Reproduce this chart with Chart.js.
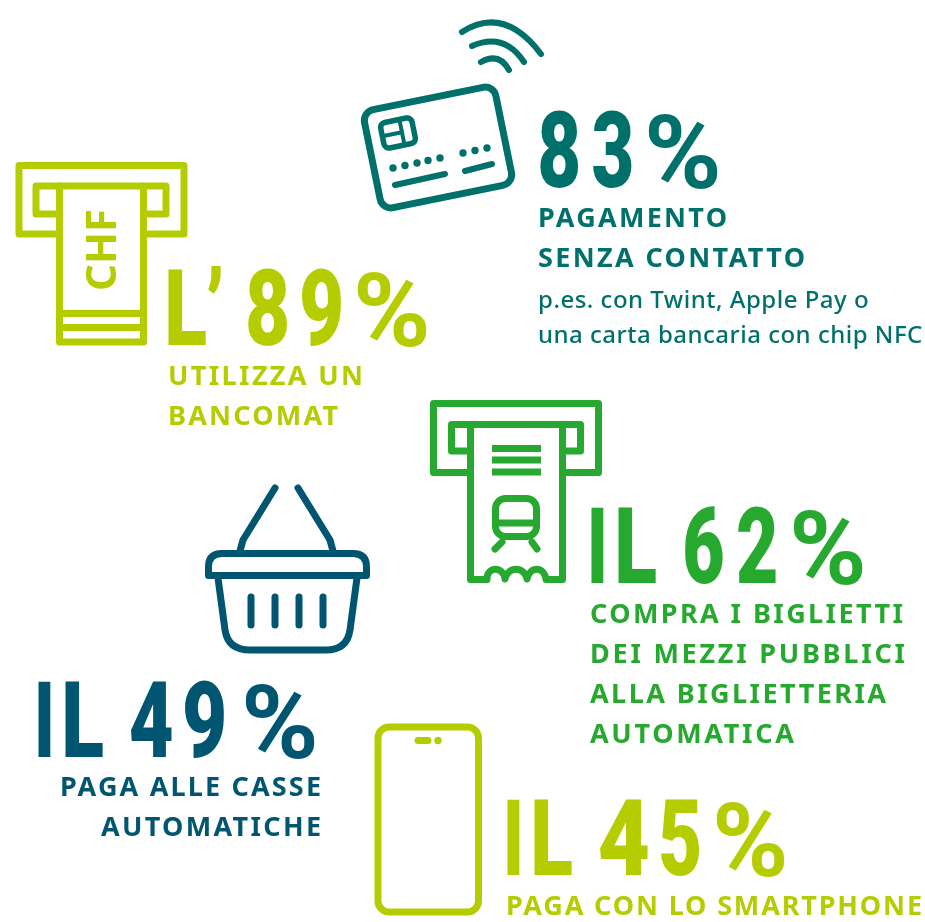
<!DOCTYPE html>
<html>
<head>
<meta charset="utf-8">
<script src="https://cdn.jsdelivr.net/npm/chart.js@4"></script>
<style>
  html, body { margin: 0; background: #fff; }
  canvas { display: block; }
</style>
</head>
<body>
<canvas id="chart" width="925" height="922"></canvas>
<script>
// values and copy
const categories = ['contactless', 'atm', 'tickets', 'selfCheckout', 'smartphone'];
const shares = [83, 89, 62, 49, 45];
const leads = ['', "L'", 'IL', 'IL', 'IL'];
const captions = [
  ['PAGAMENTO', 'SENZA CONTATTO'],
  ['UTILIZZA UN', 'BANCOMAT'],
  ['COMPRA I BIGLIETTI', 'DEI MEZZI PUBBLICI', 'ALLA BIGLIETTERIA', 'AUTOMATICA'],
  ['PAGA ALLE CASSE', 'AUTOMATICHE'],
  ['PAGA CON LO SMARTPHONE']
];
const notes = [['p.es. con Twint, Apple Pay o', 'una carta bancaria con chip NFC'], [], [], [], []];

const TEAL = '#00706a', LIME = '#b5cd00', GREEN = '#27a82f', BLUE = '#005670';
const BIG = '900 106px Roboto';
const PCT = 'bold 102px Roboto';
const CAPTION = 'bold 27px "Noto Sans"';
const NOTE = '500 24px "Noto Sans"';

// where each block sits on the page, capW = width of each caption line
const layout = [
  { color: TEAL, base: 187, lead: [], digits: [[540, 578], [593, 632]], pct: [648, 717], capX: 538, capY: 227, capW: [189, 267], right: false, icon: drawCard },
  { color: LIME, base: 345, lead: [[168, 206], [208, 221]], digits: [[248, 287], [302, 341]], pct: [357, 426], capX: 168, capY: 385, capW: [195, 170], right: false, icon: drawCash },
  { color: GREEN, base: 583, lead: [[591, 604], [618, 656]], digits: [[685, 723], [738, 776]], pct: [793, 862], capX: 590, capY: 623, capW: [313, 315, 296, 204], right: false, icon: drawTicket },
  { color: BLUE, base: 757, lead: [[38, 51], [65, 103]], digits: [[131, 172], [185, 224]], pct: [245, 314], capX: 321, capY: 796, capW: [261, 220], right: true, icon: drawBasket },
  { color: LIME, base: 875, lead: [[507, 520], [534, 572]], digits: [[600, 648], [661, 699]], pct: [716, 784], capX: 506, capY: 915, capW: [416], right: false, icon: drawPhone }
];

function line(ctx, pts) {
  ctx.beginPath();
  pts.forEach((p, i) => i ? ctx.lineTo(p[0], p[1]) : ctx.moveTo(p[0], p[1]));
  ctx.stroke();
}

function dot(ctx, x, y, r) {
  ctx.beginPath();
  ctx.arc(x, y, r, 0, Math.PI * 2);
  ctx.fill();
}

function drawCard(ctx) {
  ctx.lineWidth = 7;
  ctx.save();
  ctx.translate(438, 147.5);
  ctx.rotate(-11.5 * Math.PI / 180);
  ctx.beginPath();
  ctx.roundRect(-67, -50, 134, 100, 11);
  ctx.stroke();
  ctx.restore();

  // chip
  ctx.save();
  ctx.translate(398, 133);
  ctx.rotate(-11.5 * Math.PI / 180);
  ctx.lineWidth = 5.5;
  ctx.beginPath();
  ctx.roundRect(-16, -13, 32, 26, 5);
  ctx.stroke();
  ctx.lineWidth = 4;
  line(ctx, [[4, -13], [4, 13]]);
  line(ctx, [[-16, 0], [4, 0]]);
  ctx.restore();

  [[393, 168], [405, 165.5], [417, 163], [428, 160.5], [440, 158], [463, 153], [475, 150.5], [487, 148]]
    .forEach(p => dot(ctx, p[0], p[1], 3.7));
  ctx.lineWidth = 6;
  line(ctx, [[395, 185], [445, 174]]);
  line(ctx, [[465, 171], [492, 164]]);

  // contactless waves
  ctx.lineWidth = 6;
  [[462, 32, 504, 5, 541, 54], [472, 46, 504, 32, 524, 62], [481, 62, 499, 52, 509, 70]].forEach(a => {
    ctx.beginPath();
    ctx.moveTo(a[0], a[1]);
    ctx.quadraticCurveTo(a[2], a[3], a[4], a[5]);
    ctx.stroke();
  });
}

function drawSlot(ctx, x0, x1, y0, y1, sx0, sx1, sy0, sy1, nx0, nx1) {
  line(ctx, [[nx0, y1], [x0, y1], [x0, y0], [x1, y0], [x1, y1], [nx1, y1]]);
  line(ctx, [[nx0, sy1], [sx0, sy1], [sx0, sy0], [sx1, sy0], [sx1, sy1], [nx1, sy1]]);
}

function drawCash(ctx) {
  ctx.lineWidth = 7;
  drawSlot(ctx, 19, 184, 165.5, 234, 36, 166, 186, 214, 59.5, 143.5);
  line(ctx, [[59.5, 186], [59.5, 342], [143.5, 342], [143.5, 186]]);
  line(ctx, [[59.5, 313.5], [143.5, 313.5]]);
  line(ctx, [[59.5, 327.5], [143.5, 327.5]]);
  ctx.save();
  ctx.translate(101, 250);
  ctx.rotate(-Math.PI / 2);
  ctx.font = 'bold 42px "Noto Sans"';
  ctx.textAlign = 'center';
  ctx.textBaseline = 'alphabetic';
  ctx.fillText('CHF', 0, 15);
  ctx.restore();
}

function drawTicket(ctx) {
  ctx.lineWidth = 7;
  drawSlot(ctx, 433.5, 598.5, 403.5, 472.5, 451.5, 580.5, 424.5, 451, 470.5, 562.5);
  ctx.beginPath();
  ctx.moveTo(470.5, 424.5);
  ctx.lineTo(470.5, 579.5);
  ctx.lineTo(487, 579.5);
  ctx.bezierCurveTo(487, 566, 503, 566, 505, 579);
  ctx.bezierCurveTo(508, 566, 524, 566, 527, 579);
  ctx.bezierCurveTo(530, 566, 544, 566, 546, 579.5);
  ctx.lineTo(562.5, 579.5);
  ctx.lineTo(562.5, 424.5);
  ctx.stroke();
  ctx.lineCap = 'butt';
  [448.5, 460, 472].forEach(y => line(ctx, [[492, y], [541, y]]));
  ctx.lineCap = 'round';
  ctx.beginPath();
  ctx.roundRect(495.5, 498.5, 41, 38, 10);
  ctx.stroke();
  line(ctx, [[495.5, 523], [536.5, 523]]);
  line(ctx, [[502, 542], [495, 549]]);
  line(ctx, [[532, 542], [537, 549]]);
}

function drawBasket(ctx) {
  ctx.lineWidth = 7;
  line(ctx, [[275, 488], [243, 540], [240, 551]]);
  line(ctx, [[298, 488], [330, 540], [333, 551]]);
  ctx.beginPath();
  ctx.moveTo(208.5, 575.5);
  ctx.lineTo(208.5, 567);
  ctx.quadraticCurveTo(208.5, 553.5, 222, 553.5);
  ctx.lineTo(353, 553.5);
  ctx.quadraticCurveTo(366.5, 553.5, 366.5, 567);
  ctx.lineTo(366.5, 575.5);
  ctx.closePath();
  ctx.stroke();
  ctx.beginPath();
  ctx.moveTo(218, 578);
  ctx.lineTo(225, 630);
  ctx.quadraticCurveTo(228, 650, 250, 650);
  ctx.lineTo(326, 650);
  ctx.quadraticCurveTo(347, 650, 350, 630);
  ctx.lineTo(357, 578);
  ctx.stroke();
  [251, 275, 299, 323].forEach(x => line(ctx, [[x, 597], [x, 625]]));
}

function drawPhone(ctx) {
  ctx.lineWidth = 7;
  ctx.beginPath();
  ctx.roundRect(378, 727, 100.5, 185, 11);
  ctx.stroke();
  line(ctx, [[418, 740.5], [428, 740.5]]);
  dot(ctx, 438, 740.5, 3.7);
}

// draws a string so its ink fills the span [x0, x1]
function fitText(ctx, text, span, base) {
  const m = ctx.measureText(text);
  const inkL = -m.actualBoundingBoxLeft, inkR = m.actualBoundingBoxRight;
  const sx = (span[1] - span[0]) / (inkR - inkL);
  ctx.save();
  ctx.translate(span[0] - inkL * sx, base);
  ctx.scale(sx, 1);
  ctx.fillText(text, 0, 0);
  ctx.restore();
}

// tracks a caption line out to the width it has in the layout
function trackedText(ctx, text, x, y, width, right) {
  ctx.letterSpacing = '0px';
  const natural = ctx.measureText(text).width;
  ctx.letterSpacing = (width - natural) / (text.length - 1) + 'px';
  ctx.fillText(text, right ? x - width : x, y);
  ctx.letterSpacing = '0px';
}

const infographic = {
  id: 'infographic',
  afterDraw(chart) {
    const ctx = chart.ctx;
    const values = chart.data.datasets[0].data;
    ctx.save();
    ctx.lineCap = 'round';
    ctx.lineJoin = 'round';
    ctx.textBaseline = 'alphabetic';
    ctx.textAlign = 'left';
    layout.forEach((b, i) => {
      ctx.fillStyle = b.color;
      ctx.strokeStyle = b.color;
      b.icon(ctx);

      ctx.font = BIG;
      leads[i].split('').forEach((c, j) => {
        fitText(ctx, c === "'" ? '\u2019' : c, b.lead[j], b.base);
      });
      String(values[i]).split('').forEach((c, j) => fitText(ctx, c, b.digits[j], b.base));
      ctx.font = PCT;
      fitText(ctx, '%', b.pct, b.base + 1);

      ctx.font = CAPTION;
      captions[i].forEach((t, j) => trackedText(ctx, t, b.capX, b.capY + j * 40, b.capW[j], b.right));

      ctx.font = NOTE;
      ctx.letterSpacing = '0.5px';
      notes[i].forEach((t, j) => ctx.fillText(t, b.capX, 308 + j * 35));
      ctx.letterSpacing = '0px';
    });
    ctx.restore();
  }
};

new Chart(document.getElementById('chart'), {
  type: 'bar',
  data: {
    labels: categories,
    datasets: [{ data: shares, backgroundColor: 'rgba(0,0,0,0)' }]
  },
  options: {
    responsive: false,
    animation: false,
    plugins: { legend: { display: false }, tooltip: { enabled: false } },
    scales: { x: { display: false }, y: { display: false, min: 0, max: 100 } }
  },
  plugins: [infographic]
});
</script>
</body>
</html>
